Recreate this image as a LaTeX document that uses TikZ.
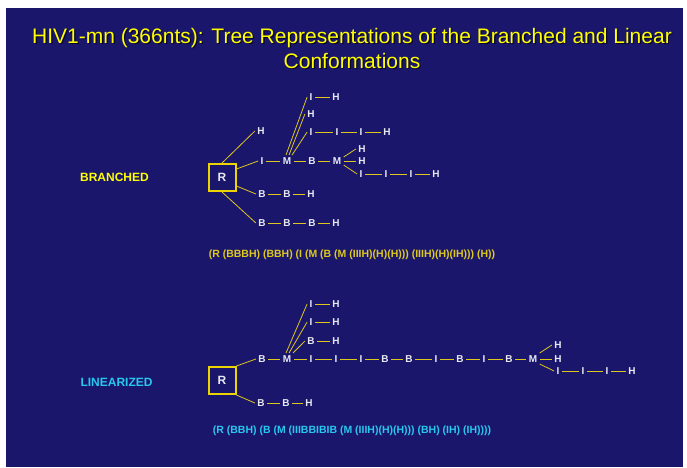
\documentclass[tikz,border=0pt]{standalone}
\usepackage{fontspec}
\setmainfont{Liberation Sans}
\definecolor{navy}{RGB}{26,22,108}
\definecolor{ttl}{RGB}{255,255,0}
\definecolor{gold}{RGB}{222,200,30}
\definecolor{boxy}{RGB}{236,212,0}
\definecolor{letter}{RGB}{232,232,242}
\definecolor{cyanish}{RGB}{40,200,238}
\definecolor{shade}{RGB}{8,6,40}
\tikzset{
  lt/.style={font=\fontsize{10}{12}\selectfont\bfseries, text=letter, inner sep=2.5pt, outer sep=0pt},
  rbox/.style={draw=boxy, line width=2pt, minimum width=27pt, minimum height=27pt, inner sep=0pt,
    font=\fontsize{12}{14}\selectfont\bfseries, text=letter},
  lk/.style={draw=gold, line width=0.8pt},
  sidelabel/.style={font=\fontsize{12}{14}\selectfont\bfseries},
  code/.style={font=\fontsize{10.5}{12}\selectfont\bfseries, inner sep=0pt},
  ttlfont/.style={anchor=base, font=\fontsize{21}{25}\selectfont, inner sep=0pt}
}
\begin{document}
\begin{tikzpicture}[x=1pt,y=-1pt]
\useasboundingbox (0,0) rectangle (687,467);
\fill[white] (0,0) rectangle (687,467);
\fill[navy] (6,8) rectangle (683,467);

% title with a soft drop shadow
\node[ttlfont, text=shade] (t1s) at (353.2,44.7)
  {HIV1-mn (366nts): Tree Representations of the Branched and Linear};
\node[ttlfont, text=shade] (t2s) at (353.2,69.2) {Conformations};
\node[ttlfont, text=ttl] (t1) at (352,43.5)
  {HIV1-mn (366nts): Tree Representations of the Branched and Linear};
\node[ttlfont, text=ttl] (t2) at (352,68) {Conformations};

% ---------------- branched tree ----------------
\node[sidelabel, text=ttl] (lbr) at (114.5,177) {BRANCHED};
\node[rbox] (R1) at (222,177.5) {R};

\node[lt] (h0) at (261,131) {H};
\node[lt] (i1) at (262,161) {I};
\node[lt] (m1) at (287,161) {M};
\node[lt] (b1) at (312,161) {B};
\node[lt] (m2) at (337,161) {M};

\node[lt] (ua) at (311,97) {I};
\node[lt] (uah) at (336,97) {H};
\node[lt] (ub) at (311,114) {H};
\node[lt] (uc) at (311,132) {I};
\node[lt] (uc2) at (337,132) {I};
\node[lt] (uc3) at (361,132) {I};
\node[lt] (uch) at (387,132) {H};

\node[lt] (ra) at (362,149) {H};
\node[lt] (rb) at (362,161) {H};
\node[lt] (rc) at (361,174) {I};
\node[lt] (rc2) at (386,174) {I};
\node[lt] (rc3) at (411,174) {I};
\node[lt] (rch) at (436,174) {H};

\node[lt] (ba1) at (262,194) {B};
\node[lt] (ba2) at (287,194) {B};
\node[lt] (bah) at (311,194) {H};

\node[lt] (bb1) at (262,223) {B};
\node[lt] (bb2) at (287,223) {B};
\node[lt] (bb3) at (312,223) {B};
\node[lt] (bbh) at (336,223) {H};

\draw[lk] (R1.north) -- (h0.west);
\draw[lk] ([yshift=8.5pt]R1.east) -- (i1.west);
\draw[lk] ([yshift=-8.5pt]R1.east) -- (ba1.west);
\draw[lk] (R1.south) -- (bb1.west);
\draw[lk] (i1) -- (m1) -- (b1) -- (m2);
\draw[lk] ([xshift=-1pt]m1.north) -- (ua.west);
\draw[lk] ([xshift=2pt]m1.north) -- (ub.west);
\draw[lk] ([xshift=5pt]m1.north) -- (uc.west);
\draw[lk] (ua) -- (uah);
\draw[lk] (uc) -- (uc2) -- (uc3) -- (uch);
\draw[lk] ([yshift=4pt]m2.east) -- (ra.west);
\draw[lk] (m2) -- (rb);
\draw[lk] ([yshift=-4pt]m2.east) -- (rc.west);
\draw[lk] (rc) -- (rc2) -- (rc3) -- (rch);
\draw[lk] (ba1) -- (ba2) -- (bah);
\draw[lk] (bb1) -- (bb2) -- (bb3) -- (bbh);

\node[code, text=gold] (cb) at (352,255)
  {(R (BBBH) (BBH) (I (M (B (M (IIIH)(H)(H))) (IIIH)(H)(IH))) (H))};

% ---------------- linearized tree ----------------
\node[sidelabel, text=cyanish] (lli) at (116.5,382) {LINEARIZED};
\node[rbox] (R2) at (222,380.5) {R};

\node[lt] (lb1) at (262,359) {B};
\node[lt] (lm1) at (287,359) {M};
\node[lt] (li1) at (311,359) {I};
\node[lt] (li2) at (336,359) {I};
\node[lt] (li3) at (361,359) {I};
\node[lt] (lb2) at (385,359) {B};
\node[lt] (lb3) at (409,359) {B};
\node[lt] (li4) at (436,359) {I};
\node[lt] (lb4) at (460,359) {B};
\node[lt] (li5) at (484,359) {I};
\node[lt] (lb5) at (509,359) {B};
\node[lt] (lm2) at (533,359) {M};

\node[lt] (lua) at (311,304) {I};
\node[lt] (luah) at (336,304) {H};
\node[lt] (lub) at (311,322) {I};
\node[lt] (lubh) at (336,322) {H};
\node[lt] (luc) at (311,341) {B};
\node[lt] (luch) at (336,341) {H};

\node[lt] (lra) at (558,345) {H};
\node[lt] (lrb) at (558,359) {H};
\node[lt] (lrc) at (558,371) {I};
\node[lt] (lrc2) at (583,371) {I};
\node[lt] (lrc3) at (607,371) {I};
\node[lt] (lrch) at (632,371) {H};

\node[lt] (lbb1) at (261,403) {B};
\node[lt] (lbb2) at (286,403) {B};
\node[lt] (lbbh) at (309,403) {H};

\draw[lk] (R2.north east) -- (lb1.west);
\draw[lk] (R2.south east) -- (lbb1.west);
\draw[lk] (lb1) -- (lm1) -- (li1) -- (li2) -- (li3) -- (lb2) -- (lb3) -- (li4) -- (lb4) -- (li5) -- (lb5) -- (lm2);
\draw[lk] ([xshift=-1pt]lm1.north) -- (lua.west);
\draw[lk] ([xshift=2pt]lm1.north) -- (lub.west);
\draw[lk] ([xshift=6pt]lm1.north) -- (luc.west);
\draw[lk] (lua) -- (luah);
\draw[lk] (lub) -- (lubh);
\draw[lk] (luc) -- (luch);
\draw[lk] ([yshift=6pt]lm2.east) -- (lra.west);
\draw[lk] (lm2) -- (lrb);
\draw[lk] ([yshift=-5pt]lm2.east) -- (lrc.west);
\draw[lk] (lrc) -- (lrc2) -- (lrc3) -- (lrch);
\draw[lk] (lbb1) -- (lbb2) -- (lbbh);

\node[code, text=cyanish] (cl) at (352,431)
  {(R (BBH) (B (M (IIIBBIBIB (M (IIIH)(H)(H))) (BH) (IH) (IH))))};
\end{tikzpicture}
\end{document}
